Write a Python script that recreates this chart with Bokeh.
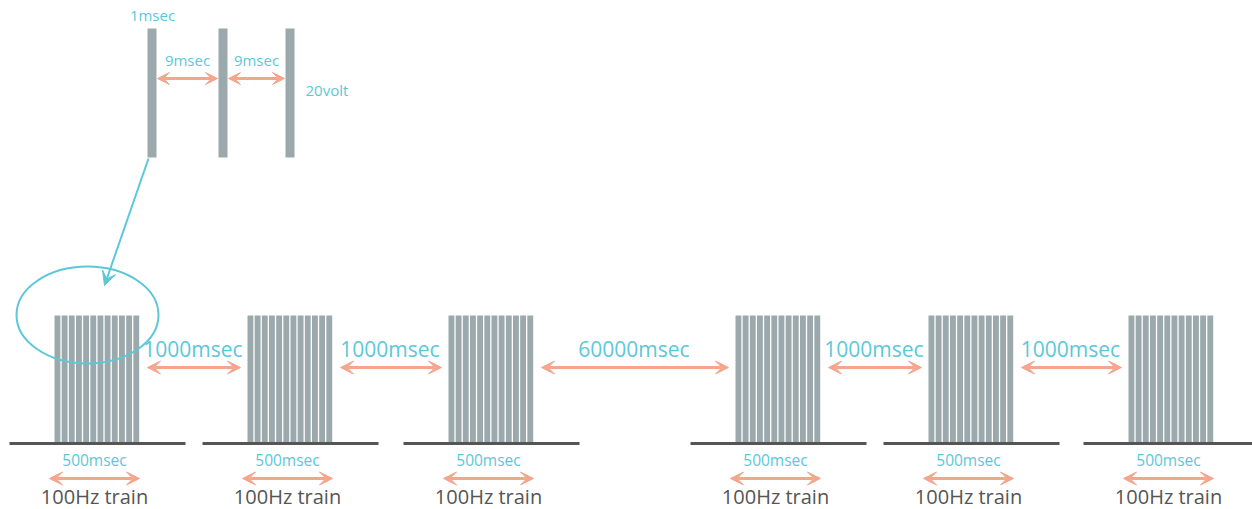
from bokeh.plotting import figure
from bokeh.models import Range1d, Arrow, VeeHead
from bokeh.core.properties import value
from bokeh.embed import file_html
from bokeh.resources import INLINE

# ---- data ----
train_labels = ["100Hz train", "100Hz train", "100Hz train", "100Hz train", "100Hz train", "100Hz train"]
train_duration_labels = ["500msec", "500msec", "500msec", "500msec", "500msec", "500msec"]
gap_labels = ["1000msec", "1000msec", "60000msec", "1000msec", "1000msec"]
pulses_drawn = 12
detail_pulses = 3
pulse_width_label = "1msec"
interval_labels = ["9msec", "9msec"]
amplitude_label = "20volt"

# ---- layout (pixel canvas) ----
train_left = [54, 247, 448, 735, 928, 1128]
train_w = 86
bar_top, bar_bot = 315, 442
base_y = 443
base_pad = 45
detail_left = [147, 218, 285]
detail_w = 9
detail_top, detail_bot = 28, 157
TY = -7  # text baseline correction

CYAN = "#5bc8d8"
SALMON = "#f4a68c"
GRAY = "#9ba9ad"
DARK = "#555555"
FONT = value("Open Sans")

p = figure(width=1252, height=509, x_range=Range1d(0, 1252), y_range=Range1d(509, 0),
           output_backend="svg", toolbar_location=None, min_border=0)
p.axis.visible = False
p.grid.visible = False
p.outline_line_color = None
p.background_fill_color = "white"

# trains of pulses
period = train_w / pulses_drawn
lefts, rights = [], []
for tl in train_left:
    for k in range(pulses_drawn):
        lefts.append(tl + k * period)
        rights.append(tl + k * period + period - 1.3)
p.quad(left=lefts, right=rights, top=[bar_top] * len(lefts), bottom=[bar_bot] * len(lefts),
       fill_color=GRAY, line_color=None)

# baselines
for tl in train_left:
    p.line([tl - base_pad, tl + train_w + base_pad], [base_y, base_y], line_color=DARK, line_width=3)

# detail pulses
p.quad(left=detail_left, right=[d + detail_w for d in detail_left],
       top=[detail_top] * detail_pulses, bottom=[detail_bot] * detail_pulses,
       fill_color=GRAY, line_color=None)

def darrow(x0, x1, y, size=13, lw=3):
    p.add_layout(Arrow(start=VeeHead(size=size, fill_color=SALMON, line_color=SALMON),
                       end=VeeHead(size=size, fill_color=SALMON, line_color=SALMON),
                       x_start=x0, y_start=y, x_end=x1, y_end=y,
                       line_color=SALMON, line_width=lw))

# gap arrows and labels
gx, gy = [], []
for i, lab in enumerate(gap_labels):
    x0 = train_left[i] + train_w + 7
    x1 = train_left[i + 1] - 7
    darrow(x0, x1, 367)
    gx.append((x0 + x1) / 2 - 1)
    gy.append(355 + TY)
p.text(x=gx, y=gy, text=gap_labels, text_font=FONT, text_font_size="21px",
       text_color=CYAN, text_align="center", text_baseline="alphabetic")

# per-train duration arrows and labels
cx = [tl + train_w / 2 - 3 for tl in train_left]
for c in cx:
    darrow(c - 45, c + 45, 478)
p.text(x=cx, y=[466 + TY] * 6, text=train_duration_labels, text_font=FONT, text_font_size="15.5px",
       text_color=CYAN, text_align="center", text_baseline="alphabetic")
p.text(x=cx, y=[503 + TY] * 6, text=train_labels, text_font=FONT, text_font_size="20px",
       text_color=DARK, text_align="center", text_baseline="alphabetic")

# detail interval arrows
ix = []
for i in range(detail_pulses - 1):
    x0 = detail_left[i] + detail_w + 1
    x1 = detail_left[i + 1] - 1
    darrow(x0, x1, 78, size=12)
    ix.append((x0 + x1) / 2)
p.text(x=ix, y=[66 + TY] * 2, text=interval_labels, text_font=FONT, text_font_size="15px",
       text_color=CYAN, text_align="center", text_baseline="alphabetic")
p.text(x=[152], y=[21 + TY], text=[pulse_width_label], text_font=FONT, text_font_size="15px",
       text_color=CYAN, text_align="center", text_baseline="alphabetic")
p.text(x=[305], y=[96 + TY], text=[amplitude_label], text_font=FONT, text_font_size="15px",
       text_color=CYAN, text_align="left", text_baseline="alphabetic")

# zoom connector and ellipse
p.add_layout(Arrow(end=VeeHead(size=14, fill_color=CYAN, line_color=CYAN),
                   x_start=148, y_start=158, x_end=104, y_end=285,
                   line_color=CYAN, line_width=2))
p.ellipse(x=[87], y=[314.5], width=[142], height=[97], fill_color=None,
          line_color=CYAN, line_width=2)

open("out.html", "w").write(file_html(p, INLINE))
